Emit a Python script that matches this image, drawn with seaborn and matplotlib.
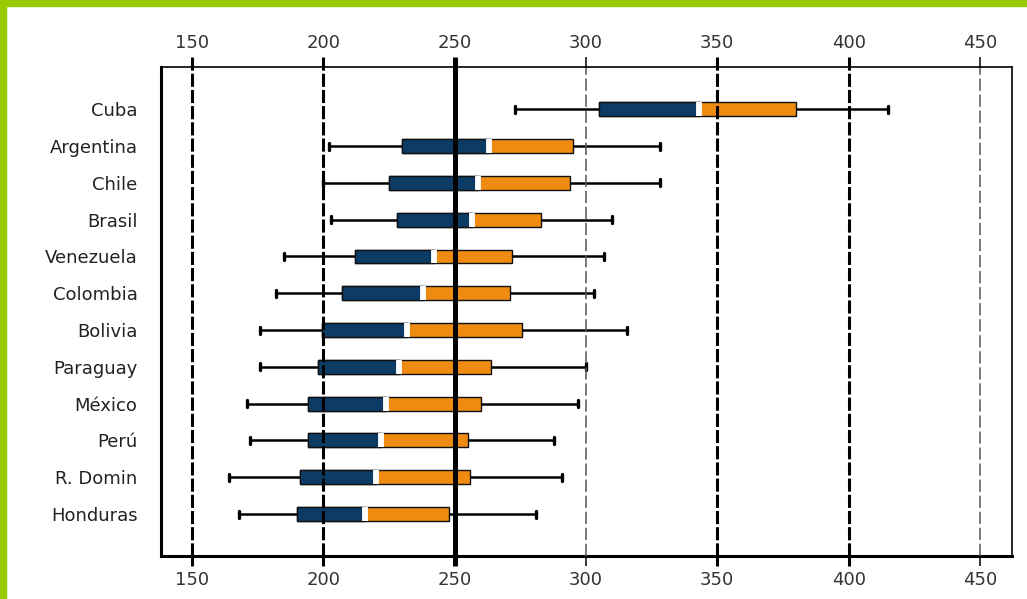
import numpy as np
import pandas as pd
import matplotlib
matplotlib.use("Agg")
import matplotlib.pyplot as plt
from matplotlib.patches import Rectangle
import seaborn as sns

# ---- data ----
countries = ["Cuba", "Argentina", "Chile", "Brasil", "Venezuela", "Colombia",
             "Bolivia", "Paraguay", "México", "Perú", "R. Domin", "Honduras"]
p_low = [273, 202, 200, 203, 185, 182, 176, 176, 171, 172, 164, 168]
q1 = [305, 230, 225, 228, 212, 207, 199.5, 198, 194, 194, 191, 190]
median = [343, 263, 259, 256.5, 242, 238, 232, 229, 224, 222, 220, 216]
q3 = [380, 295, 294, 283, 272, 271, 275.5, 264, 260, 255, 256, 248]
p_high = [415, 328, 328, 310, 307, 303, 315.5, 300, 297, 288, 291, 281]
x_ticks = [150, 200, 250, 300, 350, 400, 450]

NAVY = "#0c3b66"
ORANGE = "#ee8b10"
GREEN = "#99cc00"

sns.set_style("white")
plt.rcParams["font.family"] = ["DejaVu Sans"]

# long tables built from the arrays (5 points -> exact quartiles & whisker ends)
full = pd.DataFrame({
    "country": np.repeat(countries, 5),
    "score": np.column_stack([p_low, q1, median, q3, p_high]).ravel(),
})
lower = pd.DataFrame({
    "country": np.repeat(countries, 5),
    "score": np.column_stack([q1, q1, q1, median, median]).ravel(),
})

fig = plt.figure(figsize=(10.27, 5.99), dpi=100)
ax = fig.add_axes([161 / 1027, 43 / 599, 851 / 1027, 489 / 599])

sns.boxplot(data=full, x="score", y="country", order=countries, orient="y",
            whis=(0, 100), width=0.38, color=ORANGE, saturation=1,
            linecolor="#111111", linewidth=1.0, showfliers=False,
            whiskerprops=dict(color="black", linewidth=1.8),
            capprops=dict(color="black", linewidth=2.4),
            medianprops=dict(color="white", linewidth=4.2, zorder=5,
                             solid_capstyle="butt"),
            ax=ax)
sns.boxplot(data=lower, x="score", y="country", order=countries, orient="y",
            whis=(0, 100), width=0.38, color=NAVY, saturation=1,
            linecolor="#111111", linewidth=1.0, showfliers=False,
            showcaps=False, whiskerprops=dict(linewidth=0),
            medianprops=dict(linewidth=0), zorder=3, ax=ax)

ax.set_xlabel("")
ax.set_ylabel("")
ax.set_xlim(138.2, 462.2)
ax.set_ylim(12.14, -1.15)
ax.set_xticks(x_ticks)
ax.set_xticklabels([str(v) for v in x_ticks])

# reference lines
style = {
    "thick": dict(color="black", lw=2.2, ls=(0, (4.3, 1.0))),
    "thin": dict(color="#555555", lw=1.1, ls=(0, (8, 2.5))),
    "solid": dict(color="black", lw=3.6, ls="-"),
}
def kind(v):
    if v == 250:
        return "solid"
    if v in (300, 450):
        return "thin"
    return "thick"

for v in x_ticks:
    ax.axvline(v, zorder=6, **style[kind(v)])

ax.tick_params(axis="x", top=True, labeltop=True, bottom=True, labelbottom=True,
               direction="out", length=7.5, width=2.2, pad=3, labelsize=13,
               labelcolor="#333333", color="black")
for v, tk in zip(x_ticks, ax.xaxis.get_major_ticks()):
    s = style[kind(v)]
    for ln in (tk.tick1line, tk.tick2line):
        ln.set_markeredgewidth(s["lw"])
        ln.set_color(s["color"])

ax.tick_params(axis="y", length=0, pad=17, labelsize=13, labelcolor="#222222")

for s in ["left", "bottom"]:
    ax.spines[s].set_linewidth(2.2)
    ax.spines[s].set_color("black")
for s in ["top", "right"]:
    ax.spines[s].set_linewidth(1.2)
    ax.spines[s].set_color("black")
    ax.spines[s].set_zorder(7)

# green frame strips
fig.patches.append(Rectangle((0, 0), 6 / 1027, 1, transform=fig.transFigure,
                             color=GREEN, zorder=10))
fig.patches.append(Rectangle((0, 1 - 6 / 599), 1, 6 / 599, transform=fig.transFigure,
                             color=GREEN, zorder=10))

fig.savefig("out.png", dpi=100)
